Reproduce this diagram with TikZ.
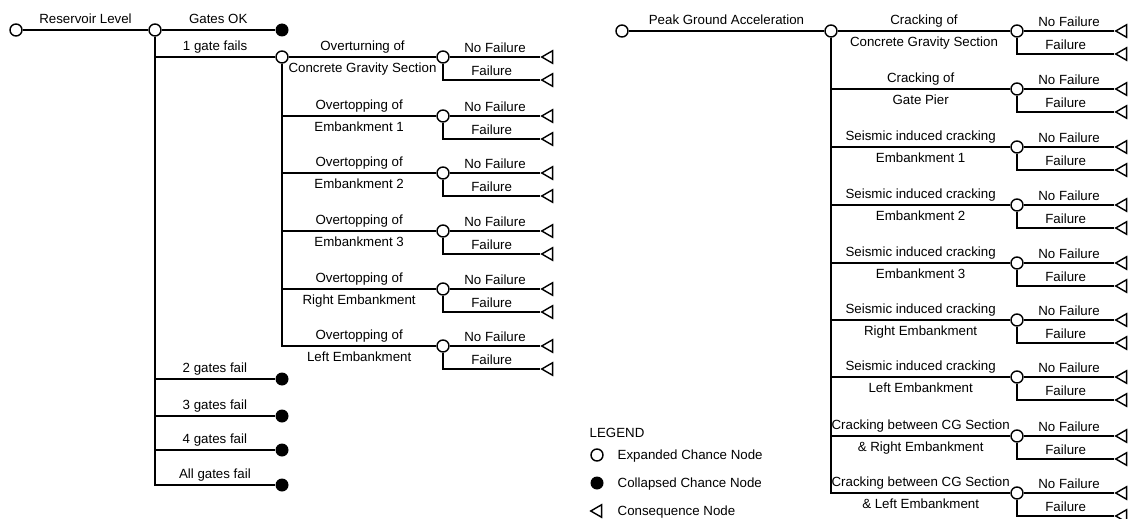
\documentclass[tikz,border=0pt]{standalone}
\usepackage{fontspec}
\setmainfont{Liberation Sans}
\usetikzlibrary{shapes.geometric}

\tikzset{
  expanded/.style={circle, draw, fill=white, minimum size=12pt, inner sep=0pt},
  collapsed/.style={circle, fill=black, minimum size=13pt, inner sep=0pt},
  conseq/.style={regular polygon, regular polygon sides=3, shape border rotate=90, draw, minimum size=14.5pt, inner sep=0pt},
  lbl/.style={text height=10pt, text depth=3pt},
  toplbl/.style={lbl, above, inner sep=3pt},
  botlbl/.style={lbl, below, inner sep=5pt},
  outlbl/.style={lbl, above, inner sep=1pt},
}

\begin{document}
\begin{tikzpicture}[x=1pt, y=-1pt, line width=1.4pt, font=\fontsize{13.3}{16}\selectfont]
    \useasboundingbox (0,0) rectangle (1136,519);

    % reservoir level tree
    \node[expanded] (r0) at (16,30) {};
    \node[expanded] (res) at (155,30) {};
    \node[collapsed] (ok) at (282,30) {};
    \node[expanded] (g1) at (282,57) {};
    \draw (r0) -- (res) node[midway, toplbl] {Reservoir Level};
    \draw (res) -- (ok) node[midway, toplbl] {Gates OK};
    \draw (res) |- (g1) node[pos=0.75, toplbl] {1 gate fails};

    \foreach \n/\y/\t in {2/379/2 gates fail, 3/416/3 gates fail, 4/450/4 gates fail, 5/485/All gates fail}
    {
        \node[collapsed] (gf\n) at (282,\y) {};
        \draw (res) |- (gf\n) node[pos=0.75, toplbl] {\t};
    }

    % one gate fails
    \node[expanded] (ov1) at (443,57) {};
    \draw (g1) -- (ov1) node[midway, toplbl] {Overturning of} node[midway, botlbl] {Concrete Gravity Section};
    \foreach \n/\y/\a/\b in {2/116/Overtopping of/Embankment 1, 3/173/Overtopping of/Embankment 2,
        4/231/Overtopping of/Embankment 3, 5/289/Overtopping of/Right Embankment, 6/346/Overtopping of/Left Embankment}
    {
        \node[expanded] (ov\n) at (443,\y) {};
        \draw (g1) |- (ov\n) node[pos=0.75, toplbl] {\a} node[pos=0.75, botlbl] {\b};
    }
    \foreach \n/\y in {1/57, 2/116, 3/173, 4/231, 5/289, 6/346}
    {
        \node[conseq] (ovn\n) at (549,\y) {};
        \node[conseq] (ovf\n) at (549,\y+23) {};
        \draw (ov\n) -- (ovn\n) node[midway, outlbl] {No Failure};
        \draw (ov\n) |- (ovf\n) node[pos=0.75, outlbl] {Failure};
    }

    % peak ground acceleration tree
    \node[expanded] (p0) at (622,31) {};
    \node[expanded] (pga) at (831,31) {};
    \draw (p0) -- (pga) node[midway, toplbl] {Peak Ground Acceleration};

    \node[expanded] (cr1) at (1017,31) {};
    \draw (pga) -- (cr1) node[midway, toplbl] {Cracking of} node[midway, botlbl] {Concrete Gravity Section};
    \foreach \n/\y/\a/\b in {2/89/Cracking of/Gate Pier, 3/147/Seismic induced cracking/Embankment 1,
        4/205/Seismic induced cracking/Embankment 2, 5/263/Seismic induced cracking/Embankment 3,
        6/320/Seismic induced cracking/Right Embankment, 7/377/Seismic induced cracking/Left Embankment,
        8/436/Cracking between CG Section/\& Right Embankment, 9/493/Cracking between CG Section/\& Left Embankment}
    {
        \node[expanded] (cr\n) at (1017,\y) {};
        \draw (pga) |- (cr\n) node[pos=0.75, toplbl] {\a} node[pos=0.75, botlbl] {\b};
    }
    \foreach \n/\y in {1/31, 2/89, 3/147, 4/205, 5/263, 6/320, 7/377, 8/436, 9/493}
    {
        \node[conseq] (crn\n) at (1123,\y) {};
        \node[conseq] (crf\n) at (1123,\y+23) {};
        \draw (cr\n) -- (crn\n) node[midway, outlbl] {No Failure};
        \draw (cr\n) |- (crf\n) node[pos=0.75, outlbl] {Failure};
    }

    % legend
    \node[anchor=west, inner sep=0pt, lbl] (leg) at (589,434) {LEGEND};
    \node[expanded] (lg1) at (597,455) {};
    \node[collapsed] (lg2) at (597,483) {};
    \node[conseq] (lg3) at (598,511) {};
    \node[anchor=west, inner sep=0pt, lbl] (lt1) at (617,456) {Expanded Chance Node};
    \node[anchor=west, inner sep=0pt, lbl] (lt2) at (617,484) {Collapsed Chance Node};
    \node[anchor=west, inner sep=0pt, lbl] (lt3) at (617,512) {Consequence Node};
\end{tikzpicture}
\end{document}
